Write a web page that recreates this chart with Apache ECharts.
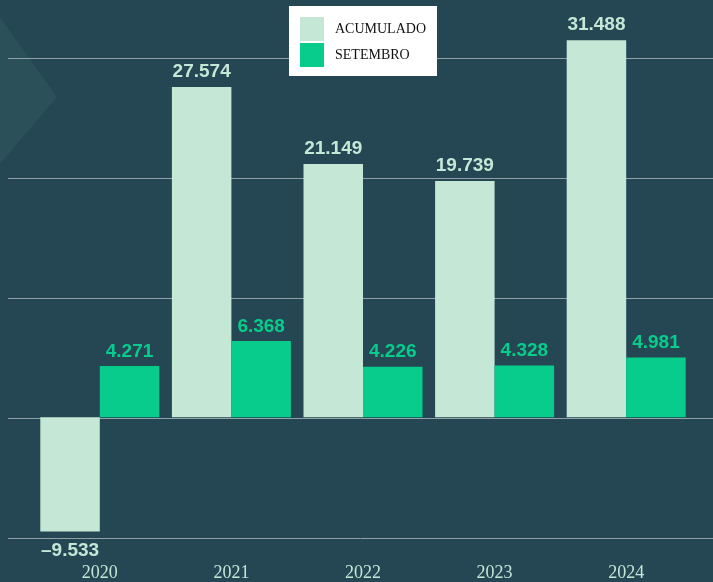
<!DOCTYPE html>
<html>
<head>
<meta charset="utf-8">
<script src="https://cdn.jsdelivr.net/npm/echarts@6/dist/echarts.min.js"></script>
<style>
html,body{margin:0;padding:0;background:#244753;}
#chart{width:713px;height:582px;}
</style>
</head>
<body>
<div id="chart"></div>
<script>
const categories = ['2020', '2021', '2022', '2023', '2024'];
const acumulado = [-9533, 27574, 21149, 19739, 31488];
const setembro = [4271, 6368, 4226, 4328, 4981];
const seriesNames = ['ACUMULADO', 'SETEMBRO'];

function fmt(v) {
  const a = Math.abs(v);
  const s = Math.floor(a / 1000) + '.' + String(a % 1000).padStart(3, '0');
  return (v < 0 ? '\u2013' : '') + s;
}

const chart = echarts.init(document.getElementById('chart'), null, {renderer: 'canvas'});
const yCommon = {min: -10000, max: 30000, interval: 10000};

chart.setOption({
  backgroundColor: '#244753',
  animation: false,
  graphic: [{
    type: 'polygon',
    z: -10,
    silent: true,
    shape: {points: [[0, 17], [57, 97], [0, 164]]},
    style: {fill: '#2b5059'}
  }],
  legend: {
    data: seriesNames,
    orient: 'vertical',
    left: 289,
    top: 6,
    backgroundColor: '#ffffff',
    padding: [11, 11, 9, 11],
    itemGap: 2,
    itemWidth: 24,
    itemHeight: 24,
    icon: 'rect',
    textStyle: {fontFamily: 'Liberation Serif', fontSize: 14, color: '#111111', padding: [0, 0, 0, 6]},
    selectedMode: false
  },
  grid: [
    {left: 34, right: 21, top: 58, bottom: 44},
    {left: 8, right: 0, top: 58, bottom: 44}
  ],
  xAxis: [
    {
      type: 'category', gridIndex: 0, data: categories,
      axisLine: {show: false, onZero: false}, axisTick: {show: false},
      axisLabel: {fontFamily: 'Liberation Serif', fontSize: 18, color: '#c5e6d6', margin: 27},
      splitLine: {show: false}
    },
    {type: 'value', gridIndex: 1, show: false, min: 0, max: 1}
  ],
  yAxis: [
    Object.assign({type: 'value', gridIndex: 0, show: false}, yCommon),
    Object.assign({
      type: 'value', gridIndex: 1,
      axisLabel: {show: false}, axisLine: {show: false}, axisTick: {show: false},
      splitLine: {show: true, lineStyle: {color: '#8fa1a6', width: 1}}
    }, yCommon)
  ],
  series: [
    {
      name: seriesNames[0], type: 'bar', xAxisIndex: 0, yAxisIndex: 0,
      clip: false, barWidth: 59.5, barGap: '0%',
      itemStyle: {color: '#c5e7d6'},
      label: {
        show: true, position: 'top', distance: 6,
        fontFamily: 'Liberation Sans', fontWeight: 'bold', fontSize: 19, color: '#c5e7d6',
        formatter: p => fmt(p.value)
      },
      data: acumulado.map(v => v < 0 ? {value: v, label: {position: 'bottom', distance: 10}} : v)
    },
    {
      name: seriesNames[1], type: 'bar', xAxisIndex: 0, yAxisIndex: 0,
      clip: false, barWidth: 59.5, barGap: '0%',
      itemStyle: {color: '#07cc8c'},
      label: {
        show: true, position: 'top', distance: 5,
        fontFamily: 'Liberation Sans', fontWeight: 'bold', fontSize: 19, color: '#07cc8c',
        formatter: p => fmt(p.value)
      },
      data: setembro
    }
  ]
});
</script>
</body>
</html>
